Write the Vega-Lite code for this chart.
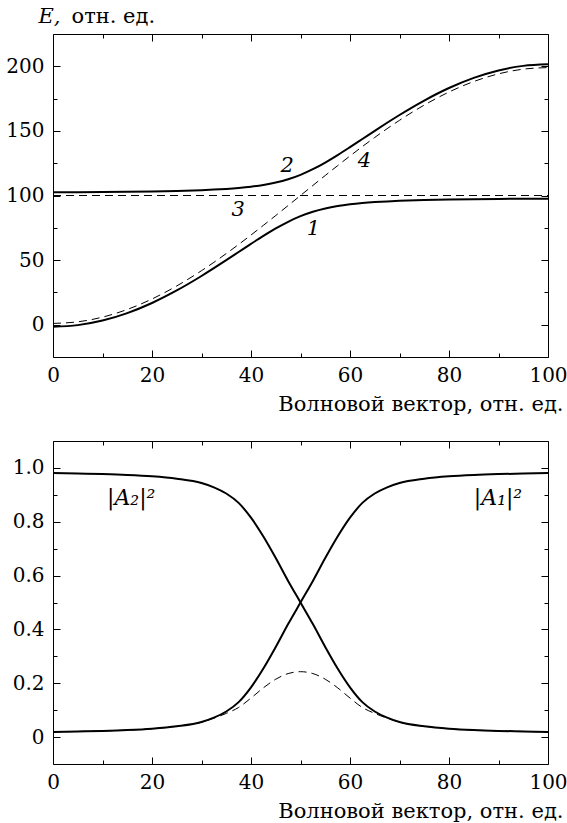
{
  "$schema": "https://vega.github.io/schema/vega-lite/v6.json",
  "padding": {"left": 5, "top": 4, "right": 0, "bottom": 0},
  "background": "white",
  "config": {
    "view": {"stroke": "black", "strokeWidth": 1},
    "axis": {"domain": false, "grid": false, "tickColor": "black", "tickWidth": 1, "labelColor": "black", "labelFont": "DejaVu Serif", "labelFontSize": 20, "labelFlush": false, "labelOverlap": false, "titleColor": "black", "titleFont": "DejaVu Serif", "titleFontSize": 21, "titleFontWeight": "normal"}
  },
  "datasets": {
    "energy": [
      {"x": 0, "E": -1.52, "curve": "1"}, {"x": 5, "E": -0.33, "curve": "1"}, {"x": 10, "E": 3.2, "curve": "1"}, {"x": 15, "E": 8.98, "curve": "1"}, {"x": 20, "E": 16.82, "curve": "1"}, {"x": 25, "E": 26.51, "curve": "1"}, {"x": 30, "E": 37.69, "curve": "1"}, {"x": 32.5, "E": 43.72, "curve": "1"}, {"x": 35, "E": 49.94, "curve": "1"}, {"x": 37.5, "E": 56.26, "curve": "1"}, {"x": 40, "E": 62.56, "curve": "1"}, {"x": 42.5, "E": 68.7, "curve": "1"}, {"x": 45, "E": 74.48, "curve": "1"}, {"x": 47.5, "E": 79.66, "curve": "1"}, {"x": 50, "E": 84.0, "curve": "1"}, {"x": 52.5, "E": 87.42, "curve": "1"}, {"x": 55, "E": 89.96, "curve": "1"}, {"x": 57.5, "E": 91.82, "curve": "1"}, {"x": 60, "E": 93.16, "curve": "1"}, {"x": 62.5, "E": 94.14, "curve": "1"}, {"x": 65, "E": 94.88, "curve": "1"}, {"x": 67.5, "E": 95.45, "curve": "1"}, {"x": 70, "E": 95.89, "curve": "1"}, {"x": 75, "E": 96.51, "curve": "1"}, {"x": 80, "E": 96.92, "curve": "1"}, {"x": 85, "E": 97.18, "curve": "1"}, {"x": 90, "E": 97.36, "curve": "1"}, {"x": 95, "E": 97.45, "curve": "1"}, {"x": 100, "E": 97.48, "curve": "1"},
      {"x": 0, "E": 102.52, "curve": "2"}, {"x": 5, "E": 102.55, "curve": "2"}, {"x": 10, "E": 102.64, "curve": "2"}, {"x": 15, "E": 102.82, "curve": "2"}, {"x": 20, "E": 103.08, "curve": "2"}, {"x": 25, "E": 103.49, "curve": "2"}, {"x": 30, "E": 104.11, "curve": "2"}, {"x": 32.5, "E": 104.55, "curve": "2"}, {"x": 35, "E": 105.12, "curve": "2"}, {"x": 37.5, "E": 105.86, "curve": "2"}, {"x": 40, "E": 106.84, "curve": "2"}, {"x": 42.5, "E": 108.18, "curve": "2"}, {"x": 45, "E": 110.04, "curve": "2"}, {"x": 47.5, "E": 112.58, "curve": "2"}, {"x": 50, "E": 116.0, "curve": "2"}, {"x": 52.5, "E": 120.34, "curve": "2"}, {"x": 55, "E": 125.52, "curve": "2"}, {"x": 57.5, "E": 131.3, "curve": "2"}, {"x": 60, "E": 137.44, "curve": "2"}, {"x": 62.5, "E": 143.74, "curve": "2"}, {"x": 65, "E": 150.06, "curve": "2"}, {"x": 67.5, "E": 156.28, "curve": "2"}, {"x": 70, "E": 162.31, "curve": "2"}, {"x": 75, "E": 173.49, "curve": "2"}, {"x": 80, "E": 183.18, "curve": "2"}, {"x": 85, "E": 191.02, "curve": "2"}, {"x": 90, "E": 196.8, "curve": "2"}, {"x": 95, "E": 200.33, "curve": "2"}, {"x": 100, "E": 201.52, "curve": "2"}
    ],
    "energyDashed": [
      {"x": 0, "E": 100, "curve": "3"}, {"x": 100, "E": 100, "curve": "3"},
      {"x": 0, "E": 1.0, "curve": "4"}, {"x": 5, "E": 2.22, "curve": "4"}, {"x": 10, "E": 5.85, "curve": "4"}, {"x": 15, "E": 11.79, "curve": "4"}, {"x": 20, "E": 19.91, "curve": "4"}, {"x": 25, "E": 30.0, "curve": "4"}, {"x": 30, "E": 41.81, "curve": "4"}, {"x": 32.5, "E": 48.27, "curve": "4"}, {"x": 35, "E": 55.05, "curve": "4"}, {"x": 37.5, "E": 62.11, "curve": "4"}, {"x": 40, "E": 69.41, "curve": "4"}, {"x": 42.5, "E": 76.89, "curve": "4"}, {"x": 45, "E": 84.51, "curve": "4"}, {"x": 47.5, "E": 92.23, "curve": "4"}, {"x": 50, "E": 100.0, "curve": "4"}, {"x": 52.5, "E": 107.77, "curve": "4"}, {"x": 55, "E": 115.49, "curve": "4"}, {"x": 57.5, "E": 123.11, "curve": "4"}, {"x": 60, "E": 130.59, "curve": "4"}, {"x": 62.5, "E": 137.89, "curve": "4"}, {"x": 65, "E": 144.95, "curve": "4"}, {"x": 67.5, "E": 151.73, "curve": "4"}, {"x": 70, "E": 158.19, "curve": "4"}, {"x": 75, "E": 170.0, "curve": "4"}, {"x": 80, "E": 180.09, "curve": "4"}, {"x": 85, "E": 188.21, "curve": "4"}, {"x": 90, "E": 194.15, "curve": "4"}, {"x": 95, "E": 197.78, "curve": "4"}, {"x": 100, "E": 199.0, "curve": "4"}
    ],
    "energyLabels": [
      {"x": 52.6, "E": 74.4, "label": "1"}, {"x": 47.3, "E": 123, "label": "2"}, {"x": 37.4, "E": 88.5, "label": "3"}, {"x": 62.9, "E": 127, "label": "4"}
    ],
    "amp": [
      {"x": 0, "A": 0.019, "curve": "A1"}, {"x": 5, "A": 0.021, "curve": "A1"}, {"x": 10, "A": 0.023, "curve": "A1"}, {"x": 15, "A": 0.026, "curve": "A1"}, {"x": 20, "A": 0.031, "curve": "A1"}, {"x": 25, "A": 0.04, "curve": "A1"}, {"x": 30, "A": 0.056, "curve": "A1"}, {"x": 32.5, "A": 0.072, "curve": "A1"}, {"x": 35, "A": 0.095, "curve": "A1"}, {"x": 37.5, "A": 0.13, "curve": "A1"}, {"x": 40, "A": 0.185, "curve": "A1"}, {"x": 42.5, "A": 0.255, "curve": "A1"}, {"x": 45, "A": 0.335, "curve": "A1"}, {"x": 47.5, "A": 0.42, "curve": "A1"}, {"x": 50, "A": 0.5, "curve": "A1"}, {"x": 52.5, "A": 0.58, "curve": "A1"}, {"x": 55, "A": 0.665, "curve": "A1"}, {"x": 57.5, "A": 0.745, "curve": "A1"}, {"x": 60, "A": 0.815, "curve": "A1"}, {"x": 62.5, "A": 0.87, "curve": "A1"}, {"x": 65, "A": 0.905, "curve": "A1"}, {"x": 67.5, "A": 0.928, "curve": "A1"}, {"x": 70, "A": 0.944, "curve": "A1"}, {"x": 75, "A": 0.96, "curve": "A1"}, {"x": 80, "A": 0.969, "curve": "A1"}, {"x": 85, "A": 0.974, "curve": "A1"}, {"x": 90, "A": 0.977, "curve": "A1"}, {"x": 95, "A": 0.979, "curve": "A1"}, {"x": 100, "A": 0.981, "curve": "A1"},
      {"x": 0, "A": 0.981, "curve": "A2"}, {"x": 5, "A": 0.979, "curve": "A2"}, {"x": 10, "A": 0.977, "curve": "A2"}, {"x": 15, "A": 0.974, "curve": "A2"}, {"x": 20, "A": 0.969, "curve": "A2"}, {"x": 25, "A": 0.96, "curve": "A2"}, {"x": 30, "A": 0.944, "curve": "A2"}, {"x": 32.5, "A": 0.928, "curve": "A2"}, {"x": 35, "A": 0.905, "curve": "A2"}, {"x": 37.5, "A": 0.87, "curve": "A2"}, {"x": 40, "A": 0.815, "curve": "A2"}, {"x": 42.5, "A": 0.745, "curve": "A2"}, {"x": 45, "A": 0.665, "curve": "A2"}, {"x": 47.5, "A": 0.58, "curve": "A2"}, {"x": 50, "A": 0.5, "curve": "A2"}, {"x": 52.5, "A": 0.42, "curve": "A2"}, {"x": 55, "A": 0.335, "curve": "A2"}, {"x": 57.5, "A": 0.255, "curve": "A2"}, {"x": 60, "A": 0.185, "curve": "A2"}, {"x": 62.5, "A": 0.13, "curve": "A2"}, {"x": 65, "A": 0.095, "curve": "A2"}, {"x": 67.5, "A": 0.072, "curve": "A2"}, {"x": 70, "A": 0.056, "curve": "A2"}, {"x": 75, "A": 0.04, "curve": "A2"}, {"x": 80, "A": 0.031, "curve": "A2"}, {"x": 85, "A": 0.026, "curve": "A2"}, {"x": 90, "A": 0.023, "curve": "A2"}, {"x": 95, "A": 0.021, "curve": "A2"}, {"x": 100, "A": 0.019, "curve": "A2"}
    ],
    "ampDashed": [
      {"x": 0, "A": 0.019}, {"x": 5, "A": 0.021}, {"x": 10, "A": 0.023}, {"x": 15, "A": 0.026}, {"x": 20, "A": 0.031}, {"x": 25, "A": 0.04}, {"x": 30, "A": 0.055}, {"x": 32.5, "A": 0.07}, {"x": 35, "A": 0.088}, {"x": 37.5, "A": 0.11}, {"x": 40, "A": 0.145}, {"x": 42.5, "A": 0.183}, {"x": 45, "A": 0.215}, {"x": 47.5, "A": 0.236}, {"x": 50, "A": 0.243}, {"x": 52.5, "A": 0.236}, {"x": 55, "A": 0.215}, {"x": 57.5, "A": 0.183}, {"x": 60, "A": 0.145}, {"x": 62.5, "A": 0.11}, {"x": 65, "A": 0.088}, {"x": 67.5, "A": 0.07}, {"x": 70, "A": 0.055}, {"x": 75, "A": 0.04}, {"x": 80, "A": 0.031}, {"x": 85, "A": 0.026}, {"x": 90, "A": 0.023}, {"x": 95, "A": 0.021}, {"x": 100, "A": 0.019}
    ],
    "ampLabels": [
      {"x": 15.8, "A": 0.888, "label": "|A₂|²"}, {"x": 89.9, "A": 0.888, "label": "|A₁|²"}
    ]
  },
  "bounds": "flush",
  "spacing": 84,
  "vconcat": [
    {
      "width": 495,
      "height": 323,
      "resolve": {"axis": {"x": "independent", "y": "independent"}},
      "layer": [
        {
          "data": {"name": "energy"},
          "mark": {"type": "line", "strokeWidth": 2, "interpolate": "monotone", "color": "black"},
          "encoding": {
            "x": {"field": "x", "type": "quantitative", "scale": {"domain": [0, 100], "nice": false, "zero": false},
              "axis": {"orient": "bottom", "offset": 0, "values": [0, 20, 40, 60, 80, 100], "ticks": false, "labelPadding": 24, "labelBaseline": "alphabetic", "title": "Волновой вектор, отн. ед.", "titleAlign": "right", "titleAnchor": "end", "titleBaseline": "alphabetic", "titleX": 510, "titleY": 53}},
            "y": {"field": "E", "type": "quantitative", "scale": {"domain": [-25, 225], "nice": false, "zero": false},
              "axis": {"orient": "left", "offset": 0, "values": [0, 50, 100, 150, 200], "ticks": false, "labelPadding": 9, "title": "E,", "titleFont": "DejaVu Serif", "titleFontStyle": "italic", "titleFontSize": 21, "titleAngle": 0, "titleAlign": "left", "titleBaseline": "alphabetic", "titleX": -15, "titleY": -12}},
            "detail": {"field": "curve"}
          }
        },
        {
          "data": {"name": "energyDashed"},
          "mark": {"type": "line", "strokeWidth": 1, "strokeDash": [8, 5], "interpolate": "monotone", "color": "black"},
          "encoding": {
            "x": {"field": "x", "type": "quantitative", "axis": {"orient": "bottom", "offset": -7, "values": [0, 20, 40, 60, 80, 100], "tickSize": 7, "labels": false, "title": null}},
            "y": {"field": "E", "type": "quantitative", "axis": {"orient": "left", "offset": -7, "values": [0, 50, 100, 150, 200], "tickSize": 7, "labels": false, "title": null}},
            "detail": {"field": "curve"}
          }
        },
        {
          "data": {"name": "energyLabels"},
          "mark": {"type": "text", "font": "DejaVu Serif", "fontStyle": "italic", "fontSize": 21, "align": "center", "baseline": "middle", "color": "black"},
          "encoding": {
            "x": {"field": "x", "type": "quantitative", "axis": {"orient": "bottom", "offset": -4, "values": [10, 30, 50, 70, 90], "tickSize": 4, "labels": false, "title": null}},
            "y": {"field": "E", "type": "quantitative", "axis": {"orient": "left", "offset": -4, "values": [25, 75, 125, 175], "tickSize": 4, "labels": false, "title": "отн. ед.", "titleAngle": 0, "titleAlign": "left", "titleBaseline": "alphabetic", "titleX": 14, "titleY": -12}},
            "text": {"field": "label"}
          }
        },
        {
          "data": {"name": "energy"},
          "mark": {"type": "line", "opacity": 0},
          "encoding": {
            "x": {"field": "x", "type": "quantitative", "axis": {"orient": "top", "offset": -7, "values": [0, 20, 40, 60, 80, 100], "tickSize": 7, "labels": false, "title": null}},
            "y": {"field": "E", "type": "quantitative", "axis": {"orient": "right", "offset": -7, "values": [0, 50, 100, 150, 200], "tickSize": 7, "labels": false, "title": null}},
            "detail": {"field": "curve"}
          }
        },
        {
          "data": {"name": "energy"},
          "mark": {"type": "line", "opacity": 0},
          "encoding": {
            "x": {"field": "x", "type": "quantitative", "axis": {"orient": "top", "offset": -4, "values": [10, 30, 50, 70, 90], "tickSize": 4, "labels": false, "title": null}},
            "y": {"field": "E", "type": "quantitative", "axis": {"orient": "right", "offset": -4, "values": [25, 75, 125, 175], "tickSize": 4, "labels": false, "title": null}},
            "detail": {"field": "curve"}
          }
        }
      ]
    },
    {
      "width": 495,
      "height": 323,
      "resolve": {"axis": {"x": "independent", "y": "independent"}},
      "layer": [
        {
          "data": {"name": "amp"},
          "mark": {"type": "line", "strokeWidth": 2, "interpolate": "monotone", "color": "black"},
          "encoding": {
            "x": {"field": "x", "type": "quantitative", "scale": {"domain": [0, 100], "nice": false, "zero": false},
              "axis": {"orient": "bottom", "offset": 0, "values": [0, 20, 40, 60, 80, 100], "ticks": false, "labelPadding": 24, "labelBaseline": "alphabetic", "title": "Волновой вектор, отн. ед.", "titleAlign": "right", "titleAnchor": "end", "titleBaseline": "alphabetic", "titleX": 510, "titleY": 53}},
            "y": {"field": "A", "type": "quantitative", "scale": {"domain": [-0.1, 1.1], "nice": false, "zero": false},
              "axis": {"orient": "left", "offset": 0, "values": [0, 0.2, 0.4, 0.6, 0.8, 1.0], "ticks": false, "labelPadding": 9, "labelExpr": "datum.value == 0 ? '0' : format(datum.value, '.1f')", "title": null}},
            "detail": {"field": "curve"}
          }
        },
        {
          "data": {"name": "ampDashed"},
          "mark": {"type": "line", "strokeWidth": 1, "strokeDash": [8, 5], "interpolate": "monotone", "color": "black"},
          "encoding": {
            "x": {"field": "x", "type": "quantitative", "axis": {"orient": "bottom", "offset": -7, "values": [0, 20, 40, 60, 80, 100], "tickSize": 7, "labels": false, "title": null}},
            "y": {"field": "A", "type": "quantitative", "axis": {"orient": "left", "offset": -7, "values": [0, 0.2, 0.4, 0.6, 0.8, 1.0], "tickSize": 7, "labels": false, "title": null}}
          }
        },
        {
          "data": {"name": "ampLabels"},
          "mark": {"type": "text", "font": "DejaVu Serif", "fontStyle": "italic", "fontSize": 22, "align": "center", "baseline": "middle", "color": "black"},
          "encoding": {
            "x": {"field": "x", "type": "quantitative", "axis": {"orient": "bottom", "offset": -4, "values": [10, 30, 50, 70, 90], "tickSize": 4, "labels": false, "title": null}},
            "y": {"field": "A", "type": "quantitative", "axis": {"orient": "left", "offset": -4, "values": [0.1, 0.3, 0.5, 0.7, 0.9], "tickSize": 4, "labels": false, "title": null}},
            "text": {"field": "label"}
          }
        },
        {
          "data": {"name": "amp"},
          "mark": {"type": "line", "opacity": 0},
          "encoding": {
            "x": {"field": "x", "type": "quantitative", "axis": {"orient": "top", "offset": -7, "values": [0, 20, 40, 60, 80, 100], "tickSize": 7, "labels": false, "title": null}},
            "y": {"field": "A", "type": "quantitative", "axis": {"orient": "right", "offset": -7, "values": [0, 0.2, 0.4, 0.6, 0.8, 1.0], "tickSize": 7, "labels": false, "title": null}},
            "detail": {"field": "curve"}
          }
        },
        {
          "data": {"name": "amp"},
          "mark": {"type": "line", "opacity": 0},
          "encoding": {
            "x": {"field": "x", "type": "quantitative", "axis": {"orient": "top", "offset": -4, "values": [10, 30, 50, 70, 90], "tickSize": 4, "labels": false, "title": null}},
            "y": {"field": "A", "type": "quantitative", "axis": {"orient": "right", "offset": -4, "values": [0.1, 0.3, 0.5, 0.7, 0.9], "tickSize": 4, "labels": false, "title": null}},
            "detail": {"field": "curve"}
          }
        }
      ]
    }
  ]
}
